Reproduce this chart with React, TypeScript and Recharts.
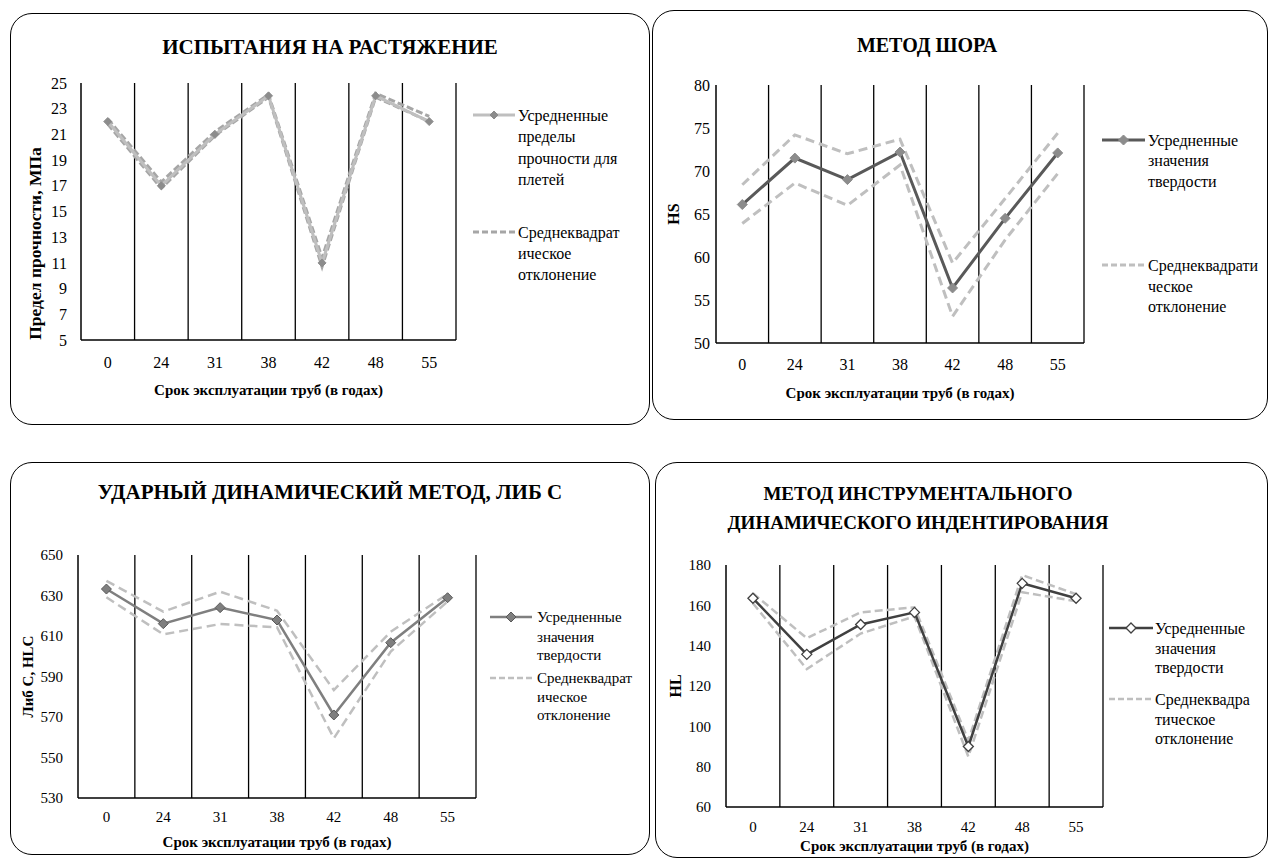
import { LineChart, Line, XAxis, YAxis, CartesianGrid } from "recharts";

const FONT = "Liberation Serif, Times New Roman, serif";

// categories: срок эксплуатации, лет
const years = ["0", "24", "31", "38", "42", "48", "55"];

// испытания на растяжение, МПа
const tensileMean = [22, 17, 21, 24, 11, 24, 22];
const tensileUpper = [22.2, 17.3, 21.2, 24.1, 11.4, 24.2, 22.4];
const tensileLower = [21.8, 16.8, 20.9, 23.9, 10.7, 23.9, 22.0];
const tensileTicks = [5, 7, 9, 11, 13, 15, 17, 19, 21, 23, 25];

// метод Шора, HS
const shoreMean = [66.1, 71.5, 69.0, 72.2, 56.4, 64.5, 72.1];
const shoreUpper = [68.4, 74.2, 72.0, 73.7, 59.3, 66.8, 74.4];
const shoreLower = [63.9, 68.6, 66.0, 70.7, 53.1, 62.0, 69.7];
const shoreTicks = [50, 55, 60, 65, 70, 75, 80];

// ударный динамический метод, HLC
const libMean = [633.2, 616.1, 624.0, 617.9, 571.0, 606.7, 628.9];
const libUpper = [637.2, 622.0, 631.9, 622.5, 583.3, 612.1, 630.7];
const libLower = [629.1, 610.8, 615.9, 614.3, 559.5, 602.3, 627.0];
const libTicks = [530, 550, 570, 590, 610, 630, 650];

// инструментальное динамическое индентирование, HL
const indentMean = [163.5, 135.7, 150.5, 156.5, 90, 170.9, 163.5];
const indentUpper = [166, 143.7, 156.5, 159, 93, 175, 165.5];
const indentLower = [161, 128.4, 146, 154.5, 85, 166.5, 162];
const indentTicks = [60, 80, 100, 120, 140, 160, 180];

const X_TITLE = "Срок эксплуатации труб (в годах)";

const build = (mean: number[], upper: number[], lower: number[]) =>
  years.map((year, i) => ({ year, mean: mean[i], upper: upper[i], lower: lower[i] }));

type Box = { x: number; y: number; w: number; h: number };
type Plot = { l: number; t: number; r: number; b: number };
type DotStyle = { fill: string; stroke: string; r: number; sw: number };
type LineStyle = { stroke: string; width: number; dot?: DotStyle };
type LegendItem = { y: number[]; text: string[]; dashed: boolean };

const diamond = (d: DotStyle) => (props: any) => {
  const { cx, cy, index } = props;
  if (cx == null || cy == null) return <g key={`e-${index}`} />;
  const r = d.r;
  return (
    <path
      key={`d-${index}`}
      d={`M${cx},${cy - r}L${cx + r},${cy}L${cx},${cy + r}L${cx - r},${cy}Z`}
      fill={d.fill}
      stroke={d.stroke}
      strokeWidth={d.sw}
    />
  );
};

// vertical lines on category boundaries, like Excel
const bandLines = ({ offset }: any) =>
  years.map((_, i) => offset.left + ((i + 1) * offset.width) / years.length);

interface PanelProps {
  box: Box;
  plot: Plot;
  title: string[];
  titleX: number;
  titleY: number;
  titleSize: number;
  data: any[];
  ticks: number[];
  yLabel: string;
  yLabelX: number;
  yLabelDy: number;
  yLabelSize: number;
  yGap: number;
  xGap: number;
  xTitleDy: number;
  tickSize: number;
  mean: LineStyle;
  dev: LineStyle & { dash: string };
  legendX: [number, number, number];
  legendFont: number;
  legend: LegendItem[];
}

function Panel(p: PanelProps) {
  const Y_W = 40;
  const X_H = 40;
  const margin = {
    top: p.plot.t - p.box.y,
    right: p.box.x + p.box.w - p.plot.r,
    left: p.plot.l - p.box.x - Y_W,
    bottom: p.box.y + p.box.h - p.plot.b - X_H,
  };
  const tick = { fill: "#000", fontSize: p.tickSize, fontFamily: FONT };
  const sw = p.legendX[1] - p.legendX[0];

  return (
    <>
      <div
        style={{
          position: "absolute",
          left: p.box.x,
          top: p.box.y,
          width: p.box.w,
          height: p.box.h,
          border: "1.5px solid #000",
          borderRadius: 22,
          boxSizing: "border-box",
        }}
      />
      <div style={{ position: "absolute", left: p.box.x, top: p.box.y }}>
        <LineChart width={p.box.w} height={p.box.h} data={p.data} margin={margin}>
          <CartesianGrid
            horizontal={false}
            stroke="#000"
            strokeWidth={1.3}
            verticalCoordinatesGenerator={bandLines}
          />
          <XAxis
            dataKey="year"
            scale="band"
            interval={0}
            height={X_H}
            tickLine={false}
            tickSize={0}
            tickMargin={p.xGap}
            axisLine={{ stroke: "#000", strokeWidth: 1.5 }}
            tick={tick}
            label={{
              content: (lp: any) => {
                const vb = lp.viewBox || {};
                return (
                  <text
                    x={vb.x + vb.width / 2}
                    y={vb.y + p.xTitleDy}
                    textAnchor="middle"
                    dominantBaseline="central"
                    fontFamily={FONT}
                    fontWeight="bold"
                    fontSize={15}
                    fill="#000"
                  >
                    {X_TITLE}
                  </text>
                );
              },
            }}
          />
          <YAxis
            type="number"
            width={Y_W}
            domain={[p.ticks[0], p.ticks[p.ticks.length - 1]]}
            ticks={p.ticks}
            interval={0}
            tickLine={false}
            tickSize={0}
            tickMargin={p.yGap}
            axisLine={{ stroke: "#000", strokeWidth: 1.5 }}
            tick={tick}
            label={{
              content: (lp: any) => {
                const vb = lp.viewBox || {};
                const x = p.yLabelX - p.box.x;
                const cy = vb.y + vb.height / 2 + p.yLabelDy;
                return (
                  <text
                    x={x}
                    y={cy}
                    transform={`rotate(-90 ${x} ${cy})`}
                    textAnchor="middle"
                    dominantBaseline="central"
                    fontFamily={FONT}
                    fontWeight="bold"
                    fontSize={p.yLabelSize}
                    fill="#000"
                  >
                    {p.yLabel}
                  </text>
                );
              },
            }}
          />
          <Line
            dataKey="upper"
            stroke={p.dev.stroke}
            strokeWidth={p.dev.width}
            strokeDasharray={p.dev.dash}
            dot={false}
            activeDot={false}
            isAnimationActive={false}
          />
          <Line
            dataKey="lower"
            stroke={p.dev.stroke}
            strokeWidth={p.dev.width}
            strokeDasharray={p.dev.dash}
            dot={false}
            activeDot={false}
            isAnimationActive={false}
          />
          <Line
            dataKey="mean"
            stroke={p.mean.stroke}
            strokeWidth={p.mean.width}
            dot={p.mean.dot ? diamond(p.mean.dot) : false}
            activeDot={false}
            isAnimationActive={false}
          />
        </LineChart>
      </div>
      {/* title and legend as svg text */}
      <svg
        width={1272}
        height={860}
        style={{ position: "absolute", left: 0, top: 0, pointerEvents: "none" }}
      >
        {p.title.map((t, i) => (
          <text
            key={`t-${i}`}
            x={p.titleX}
            y={p.titleY + i * 29}
            textAnchor="middle"
            dominantBaseline="central"
            fontFamily={FONT}
            fontWeight="bold"
            fontSize={p.titleSize}
            fill="#000"
          >
            {t}
          </text>
        ))}
        {p.legend.map((item, k) => (
          <g key={`l-${k}`}>
            {item.dashed ? (
              <line
                x1={p.legendX[0]}
                y1={item.y[0]}
                x2={p.legendX[1]}
                y2={item.y[0]}
                stroke={p.dev.stroke}
                strokeWidth={p.dev.width}
                strokeDasharray="6 3"
              />
            ) : (
              <>
                <line
                  x1={p.legendX[0]}
                  y1={item.y[0]}
                  x2={p.legendX[1]}
                  y2={item.y[0]}
                  stroke={p.mean.stroke}
                  strokeWidth={p.mean.width}
                />
                {p.mean.dot && diamond(p.mean.dot)({ cx: p.legendX[0] + sw / 2, cy: item.y[0], index: k })}
              </>
            )}
            {item.text.map((line, j) => (
              <text
                key={`lt-${j}`}
                x={p.legendX[2]}
                y={item.y[j]}
                dominantBaseline="central"
                fontFamily={FONT}
                fontSize={p.legendFont}
                fill="#000"
              >
                {line}
              </text>
            ))}
          </g>
        ))}
      </svg>
    </>
  );
}

export default function App() {
  return (
    <div
      style={{
        position: "absolute",
        left: 0,
        top: 0,
        width: 1272,
        height: 860,
        background: "#fff",
        color: "#000",
      }}
    >
      <Panel
        box={{ x: 10, y: 13, w: 640, h: 412 }}
        plot={{ l: 81, t: 83, r: 456, b: 340 }}
        title={["ИСПЫТАНИЯ НА РАСТЯЖЕНИЕ"]}
        titleX={330}
        titleY={47}
        titleSize={21}
        data={build(tensileMean, tensileUpper, tensileLower)}
        ticks={tensileTicks}
        yLabel="Предел прочности, МПа"
        yLabelX={35}
        yLabelDy={32}
        yLabelSize={17.5}
        yGap={14}
        xGap={17}
        xTitleDy={50}
        tickSize={16}
        mean={{ stroke: "#bfbfbf", width: 3, dot: { fill: "#8c8c8c", stroke: "#8c8c8c", r: 4, sw: 1 } }}
        dev={{ stroke: "#a6a6a6", width: 3, dash: "7 3" }}
        legendX={[473, 515, 518]}
        legendFont={16}
        legend={[
          { y: [115, 136, 158, 179], text: ["Усредненные", "пределы", "прочности для", "плетей"], dashed: false },
          { y: [232, 253, 274], text: ["Среднеквадрат", "ическое", "отклонение"], dashed: true },
        ]}
      />
      <Panel
        box={{ x: 652, y: 10, w: 616, h: 410 }}
        plot={{ l: 716, t: 85, r: 1084, b: 343 }}
        title={["МЕТОД ШОРА"]}
        titleX={927}
        titleY={45}
        titleSize={20}
        data={build(shoreMean, shoreUpper, shoreLower)}
        ticks={shoreTicks}
        yLabel="HS"
        yLabelX={673}
        yLabelDy={0}
        yLabelSize={16}
        yGap={6}
        xGap={16}
        xTitleDy={50}
        tickSize={16}
        mean={{ stroke: "#595959", width: 3, dot: { fill: "#8c8c8c", stroke: "#8c8c8c", r: 5, sw: 1 } }}
        dev={{ stroke: "#bfbfbf", width: 3, dash: "9 5" }}
        legendX={[1102, 1145, 1148]}
        legendFont={16}
        legend={[
          { y: [140, 160, 181], text: ["Усредненные", "значения", "твердости"], dashed: false },
          { y: [265, 286, 306], text: ["Среднеквадрати", "ческое", "отклонение"], dashed: true },
        ]}
      />
      <Panel
        box={{ x: 10, y: 462, w: 640, h: 393 }}
        plot={{ l: 78, t: 555, r: 476, b: 798 }}
        title={["УДАРНЫЙ ДИНАМИЧЕСКИЙ МЕТОД, ЛИБ С"]}
        titleX={330}
        titleY={492}
        titleSize={21}
        data={build(libMean, libUpper, libLower)}
        ticks={libTicks}
        yLabel="Либ С, HLC"
        yLabelX={28}
        yLabelDy={0}
        yLabelSize={15}
        yGap={15}
        xGap={13}
        xTitleDy={44}
        tickSize={15}
        mean={{ stroke: "#7f7f7f", width: 2.5, dot: { fill: "#7f7f7f", stroke: "#595959", r: 5, sw: 1 } }}
        dev={{ stroke: "#bfbfbf", width: 2.5, dash: "9 5" }}
        legendX={[490, 532, 537]}
        legendFont={15}
        legend={[
          { y: [617, 637, 655], text: ["Усредненные", "значения", "твердости"], dashed: false },
          { y: [678, 697, 715], text: ["Среднеквадрат", "ическое", "отклонение"], dashed: true },
        ]}
      />
      <Panel
        box={{ x: 655, y: 462, w: 613, h: 396 }}
        plot={{ l: 726, t: 565, r: 1103, b: 807 }}
        title={["МЕТОД ИНСТРУМЕНТАЛЬНОГО", "ДИНАМИЧЕСКОГО ИНДЕНТИРОВАНИЯ"]}
        titleX={918}
        titleY={493}
        titleSize={19}
        data={build(indentMean, indentUpper, indentLower)}
        ticks={indentTicks}
        yLabel="HL"
        yLabelX={675}
        yLabelDy={0}
        yLabelSize={16}
        yGap={15}
        xGap={14}
        xTitleDy={39}
        tickSize={15}
        mean={{ stroke: "#404040", width: 2.5, dot: { fill: "#fff", stroke: "#404040", r: 5, sw: 1.3 } }}
        dev={{ stroke: "#bfbfbf", width: 2.5, dash: "8 4" }}
        legendX={[1109, 1153, 1155]}
        legendFont={16}
        legend={[
          { y: [628, 648, 667], text: ["Усредненные", "значения", "твердости"], dashed: false },
          { y: [699, 719, 738], text: ["Среднеквадра", "тическое", "отклонение"], dashed: true },
        ]}
      />
    </div>
  );
}
